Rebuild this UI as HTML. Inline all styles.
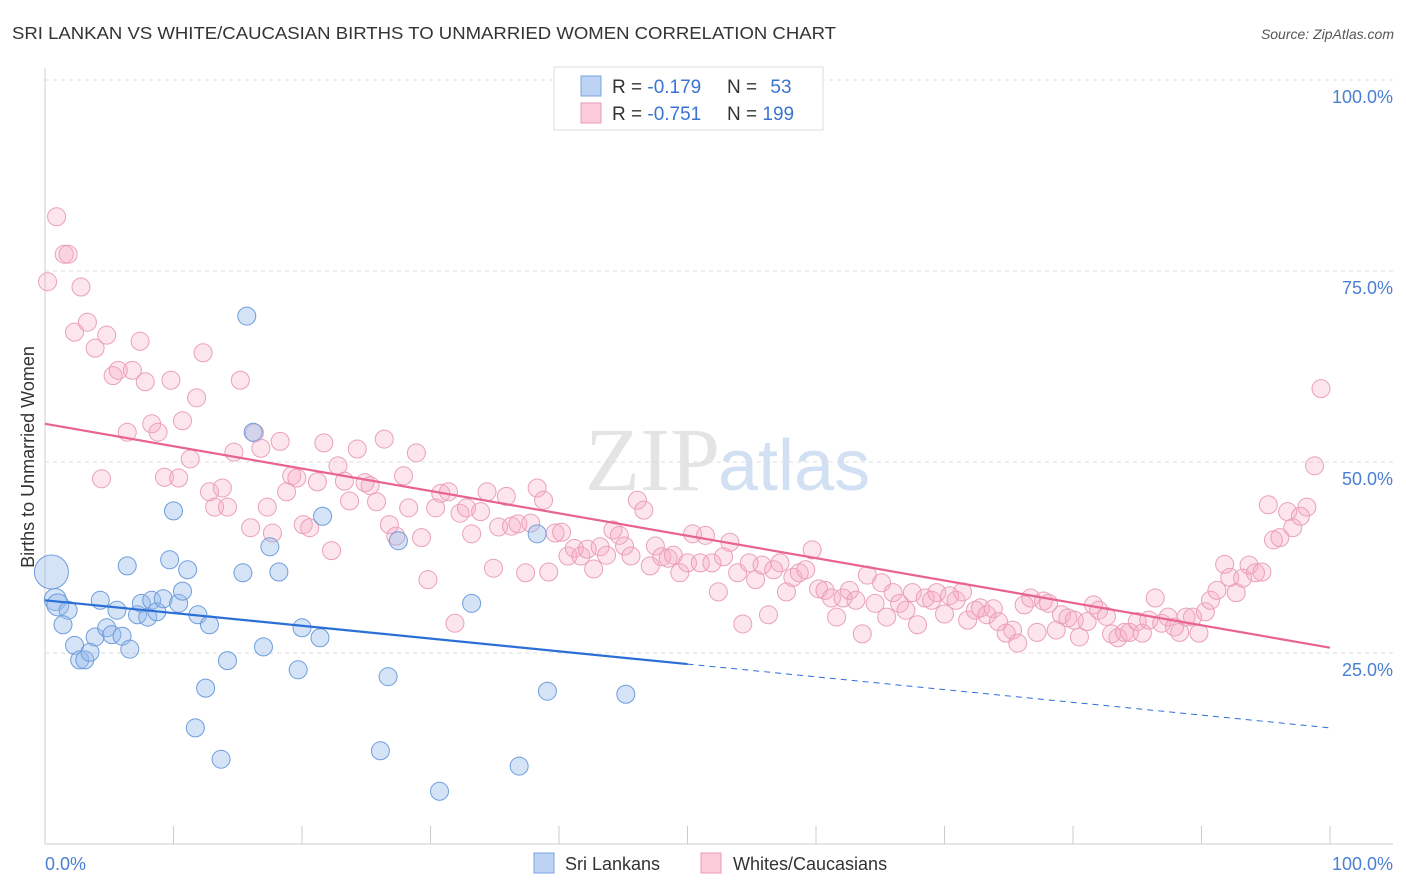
<!DOCTYPE html>
<html><head><meta charset="utf-8"><style>
body{margin:0;background:#fff;font-family:"Liberation Sans",sans-serif;}
#wrap{position:relative;width:1406px;height:892px;overflow:hidden;}
</style></head><body>
<div id="wrap">
<svg id="svg" width="1406" height="892" xmlns="http://www.w3.org/2000/svg">
<text x="12" y="39" font-size="17.5" fill="#333" textLength="824" lengthAdjust="spacingAndGlyphs">SRI LANKAN VS WHITE/CAUCASIAN BIRTHS TO UNMARRIED WOMEN CORRELATION CHART</text>
<text x="1394" y="39" font-size="14" fill="#555" font-style="italic" text-anchor="end">Source: ZipAtlas.com</text>
<text x="720" y="490" font-size="90" fill="#e4e4e4" text-anchor="end" font-family="Liberation Serif">ZIP</text>
<text x="718" y="490" font-size="72" fill="#d2e0f3">atlas</text>
<g id="grid"></g>
<g id="pts"></g>
<g id="trend"></g>
<text transform="translate(34,457) rotate(-90)" font-size="18" fill="#333" text-anchor="middle">Births to Unmarried Women</text>
<text x="45" y="870" font-size="18" fill="#4a7fd1">0.0%</text>
<text x="1393" y="870" font-size="18" fill="#4a7fd1" text-anchor="end">100.0%</text>
<g>
<rect x="554" y="67" width="269" height="63" fill="#fff" stroke="#ddd"/>
<rect x="581" y="76" width="20" height="20" fill="#bcd3f3" stroke="#7aa6e0"/>
<rect x="581" y="103" width="20" height="20" fill="#fbcbda" stroke="#e89ab4"/>
<text x="612" y="93" font-size="19" fill="#333">R = <tspan fill="#3b73d0">-0.179</tspan></text>
<text x="727" y="93" font-size="19" fill="#333">N = <tspan fill="#3b73d0" dx="8">53</tspan></text>
<text x="612" y="120" font-size="19" fill="#333">R = <tspan fill="#3b73d0">-0.751</tspan></text>
<text x="727" y="120" font-size="19" fill="#333">N = <tspan fill="#3b73d0">199</tspan></text>
</g>
<g>
<rect x="534" y="853" width="20" height="20" fill="#bcd3f3" stroke="#7aa6e0"/>
<text x="565" y="870" font-size="18" fill="#333">Sri Lankans</text>
<rect x="701" y="853" width="20" height="20" fill="#fbcbda" stroke="#e89ab4"/>
<text x="733" y="870" font-size="18" fill="#333">Whites/Caucasians</text>
</g>
</svg>
</div>
<script>
const yTicks=[25,50,75,100];
const xTicks=[0,10,20,30,40,50,60,70,80,90,100];
const blueX=[0.5,0.8,1.0,1.8,1.4,2.3,2.7,3.1,3.5,3.9,4.3,4.8,5.2,5.6,6.0,6.6,6.4,7.2,7.5,8.0,8.3,8.7,9.2,9.7,10.0,10.4,10.7,11.1,11.9,12.5,12.8,11.7,13.7,14.2,15.4,15.7,16.2,17.0,17.5,18.2,19.7,20.0,21.4,21.6,26.1,26.7,27.5,30.7,33.2,36.9,38.3,39.1,45.2];
const blueY=[35.6,32.0,31.3,30.6,28.7,26.0,24.1,24.1,25.1,27.1,31.9,28.3,27.4,30.6,27.2,25.5,36.4,30.0,31.5,29.7,31.9,30.4,32.1,37.2,43.6,31.5,33.1,35.9,30.0,20.4,28.7,15.2,11.1,24.0,35.5,69.1,53.9,25.8,38.9,35.6,22.8,28.3,27.0,42.9,12.2,21.9,39.7,6.9,31.5,10.2,40.6,20.0,19.6];
const pinkX=[0.9,0.2,1.5,1.8,2.8,2.3,3.3,3.9,4.4,4.8,5.3,5.7,6.4,6.8,7.4,7.8,8.3,8.8,9.3,9.8,10.4,10.7,11.3,11.8,12.3,12.8,13.2,13.8,14.2,14.7,15.2,16.0,16.3,16.8,17.3,17.7,18.3,18.8,19.2,19.6,20.1,20.6,21.2,21.7,22.3,22.8,23.3,23.7,24.3,24.9,25.3,25.8,26.4,26.8,27.3,27.9,28.3,28.9,29.3,29.8,30.4,30.8,31.4,31.9,32.3,32.8,33.2,33.9,34.4,34.9,35.3,35.9,36.3,36.8,37.4,37.8,38.3,38.8,39.2,39.7,40.2,40.7,41.2,41.7,42.2,42.7,43.2,43.7,44.2,44.7,45.1,45.6,46.1,46.6,47.1,47.5,48.0,48.5,48.9,49.4,50.0,50.4,51.0,51.4,51.9,52.4,52.8,53.3,53.9,54.3,54.8,55.3,55.8,56.3,56.7,57.2,57.7,58.2,58.7,59.2,59.7,60.2,60.7,61.2,61.6,62.1,62.6,63.1,63.6,64.0,64.6,65.1,65.5,66.0,66.5,67.0,67.5,67.9,68.5,69.0,69.4,70.0,70.4,70.9,71.4,71.8,72.4,72.8,73.3,73.8,74.2,74.8,75.3,75.7,76.2,76.7,77.2,77.7,78.1,78.7,79.1,79.6,80.1,80.5,81.1,81.6,82.0,82.6,83.0,83.5,84.0,84.4,85.0,85.4,85.9,86.4,86.9,87.4,87.9,88.3,88.8,89.3,89.8,90.3,90.7,91.2,91.8,92.2,92.7,93.2,93.7,94.2,94.7,95.2,95.6,96.1,96.7,97.1,97.7,98.2,98.8,99.3];
const pinkY=[82.1,73.6,77.2,77.2,72.9,67.0,68.3,64.9,47.8,66.6,61.3,62.0,53.9,62.0,65.8,60.5,55.0,53.9,48.0,60.7,47.9,55.4,50.4,58.4,64.3,46.1,44.1,46.6,44.1,51.3,60.7,41.4,53.8,51.8,44.1,40.7,52.7,46.1,48.2,47.9,41.8,41.4,47.4,52.5,38.4,49.5,47.5,44.9,51.7,47.3,46.9,44.8,53.0,41.8,40.3,48.2,44.0,51.2,40.1,34.6,44.0,45.9,46.1,28.9,43.3,44.0,40.6,43.5,46.1,36.1,41.5,45.5,41.6,41.9,35.5,42.0,46.6,45.0,35.6,40.7,40.8,37.7,38.7,37.7,38.6,36.0,38.9,37.8,41.1,40.4,39.0,37.7,45.0,43.7,36.4,39.0,37.6,37.4,37.8,35.5,36.8,40.6,36.8,40.4,36.8,33.0,37.6,39.5,35.5,28.8,36.8,34.6,36.5,30.0,35.9,36.8,33.0,34.9,35.5,35.9,38.5,33.4,33.2,32.2,29.7,32.2,33.2,31.9,27.5,35.2,31.5,34.2,29.7,32.9,31.5,30.6,32.9,28.7,32.2,31.9,32.9,30.1,32.5,31.9,33.0,29.3,30.6,30.9,30.0,30.8,29.1,27.6,28.0,26.3,31.3,32.2,27.7,31.8,31.5,28.0,30.0,29.6,29.3,27.1,29.1,31.3,30.6,29.8,27.5,27.0,27.7,27.7,29.1,27.6,29.3,32.2,28.9,29.7,28.4,27.7,29.7,29.7,27.6,30.4,31.9,33.2,36.6,34.9,32.9,34.8,36.5,35.5,35.6,44.4,39.8,40.1,43.5,41.4,42.9,44.1,49.5,59.6];
const pinkTrend=[55.0,25.7];
const blueTrend=[31.9,15.2];
const blueSolidEnd=50;

const X0=45,X1=1330,Y0=844,Y100=80;
function sx(v){return X0+(X1-X0)*v/100;}
function sy(v){return Y0-(Y0-Y100)*v/100;}
const NS="http://www.w3.org/2000/svg";
function mk(tag,attrs,parent){const e=document.createElementNS(NS,tag);for(const k in attrs)e.setAttribute(k,attrs[k]);parent.appendChild(e);return e;}
const grid=document.getElementById('grid');
yTicks.forEach(t=>{
  const l=mk('line',{x1:45,x2:1393,y1:sy(t),y2:sy(t),stroke:'#ddd','stroke-dasharray':'4,4'},grid);
  
  
  const tx=mk('text',{x:1393,y:sy(t)+23,'font-size':18,fill:'#4a7fd1','text-anchor':'end'},grid);
  tx.textContent=t.toFixed(1)+'%';
  
  
});
const ax=mk('line',{x1:45,x2:1393,y1:Y0,y2:Y0,stroke:'#ccc'},grid);


const ay=mk('line',{x1:45,x2:45,y1:68,y2:Y0,stroke:'#ccc'},grid);


xTicks.forEach(t=>{
  const l=mk('line',{x1:sx(t),x2:sx(t),y1:826,y2:Y0,stroke:'#ccc'},grid);
  
  
});
const pts=document.getElementById('pts');
pinkX.forEach((x,i)=>{
  const c=mk('circle',{cx:sx(x),cy:sy(pinkY[i]),r:9,fill:'rgba(248,170,195,0.3)',stroke:'#eaa0ba','stroke-width':1},pts);
  
  
});
blueX.forEach((x,i)=>{
  const c=mk('circle',{cx:sx(x),cy:sy(blueY[i]),r:i===0?17:(i<3?11:9),fill:'rgba(150,185,235,0.4)',stroke:'#6f9ddc','stroke-width':1},pts);
  
  
});
const tr=document.getElementById('trend');
const pl=mk('line',{x1:sx(0),y1:sy(pinkTrend[0]),x2:sx(100),y2:sy(pinkTrend[1]),stroke:'#e8638f','stroke-width':2.2},tr);


function bY(x){return blueTrend[0]+(blueTrend[1]-blueTrend[0])*x/100;}
const bl=mk('line',{x1:sx(0),y1:sy(bY(0)),x2:sx(blueSolidEnd),y2:sy(bY(blueSolidEnd)),stroke:'#2b6fd6','stroke-width':2.2},tr);


const bd=mk('line',{x1:sx(blueSolidEnd),y1:sy(bY(blueSolidEnd)),x2:sx(100),y2:sy(bY(100)),stroke:'#2b6fd6','stroke-width':1,'stroke-dasharray':'6,5'},tr);


</script>
</body></html>
